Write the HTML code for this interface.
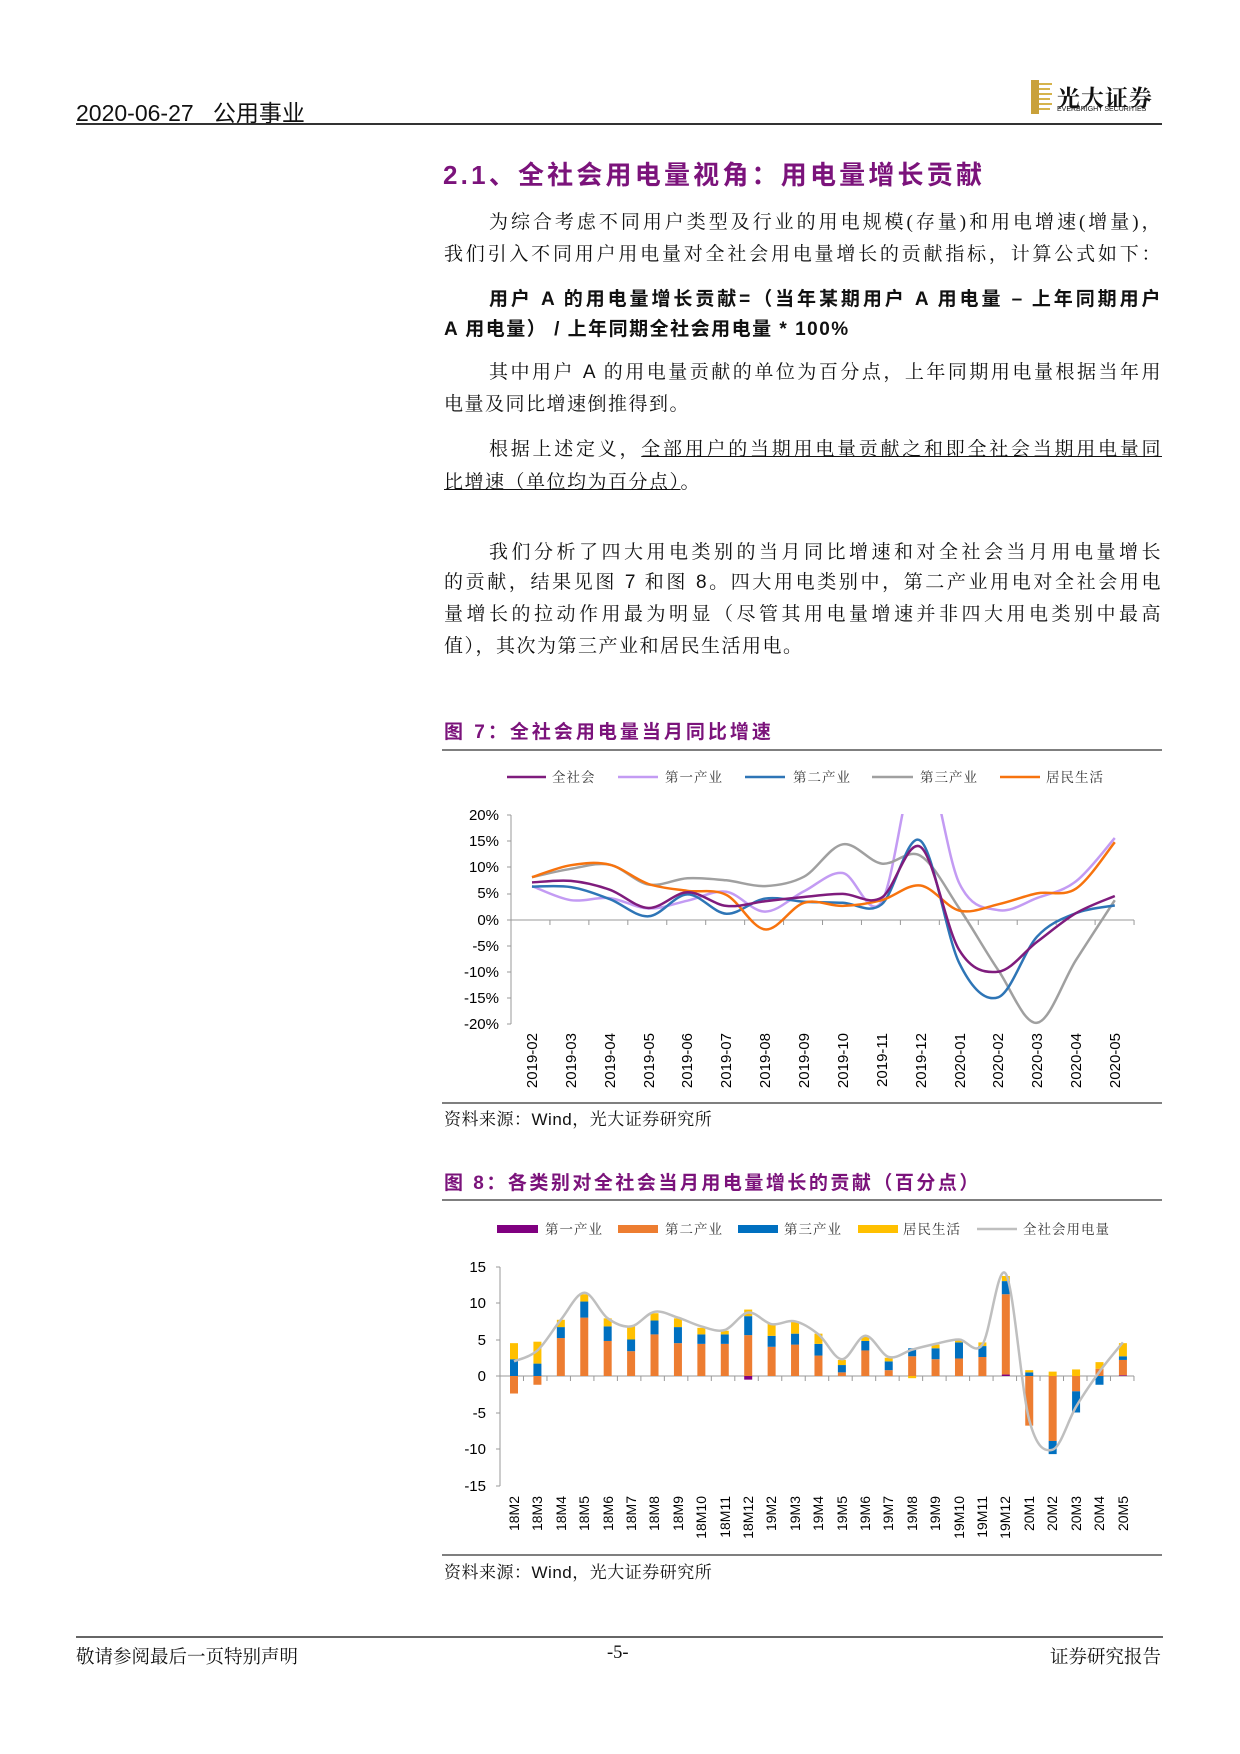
<!DOCTYPE html>
<html><head><meta charset="utf-8">
<style>
html,body{margin:0;padding:0;background:#fff;}
#pg{position:relative;width:1240px;height:1754px;overflow:hidden;background:#fff;
font-family:"Liberation Serif","Noto Serif CJK SC",serif;color:#111;}
.t{position:absolute;white-space:nowrap;}
.ln{position:absolute;left:444px;width:718px;font-size:19px;line-height:24px;white-space:nowrap;letter-spacing:1.5px;}
.j{text-align:justify;text-align-last:justify;}
.b{font-family:"Liberation Sans","Noto Sans CJK SC",sans-serif;font-weight:bold;}
.s{font-family:"Liberation Sans","Noto Serif CJK SC",serif;}
svg{position:absolute;left:0;top:0;}
</style></head><body><div id="pg">

<div class="t" style="left:76px;top:94px;font-size:23px;font-family:'Liberation Sans','Noto Sans CJK SC',sans-serif;">2020-06-27&nbsp;&nbsp;&nbsp;公用事业</div>
<div class="t" style="left:1057px;top:80px;font-size:23px;font-weight:bold;font-family:'Noto Serif CJK SC',serif;letter-spacing:1px;">光大证券</div>
<div class="t" style="left:1057px;top:106px;font-size:7px;font-family:'Liberation Sans',sans-serif;">EVERBRIGHT SECURITIES</div>

<div class="t" style="left:443px;top:155px;font-size:26px;font-weight:bold;color:#7B137B;font-family:'Liberation Sans','Noto Sans CJK SC',sans-serif;letter-spacing:3.2px;">2.1、全社会用电量视角：用电量增长贡献</div>

<div class="ln j" style="top:211px;padding-left:45px;width:673px;">为综合考虑不同用户类型及行业的用电规模(存量)和用电增速(增量)，</div>
<div class="ln j" style="top:243px;">我们引入不同用户用电量对全社会用电量增长的贡献指标，计算公式如下：</div>
<div class="ln j b" style="top:288px;padding-left:45px;width:673px;">用户 A 的用电量增长贡献=（当年某期用户 A 用电量 – 上年同期用户</div>
<div class="ln b" style="top:318px;">A 用电量） / 上年同期全社会用电量 * 100%</div>
<div class="ln j s" style="top:361px;padding-left:45px;width:673px;">其中用户 A 的用电量贡献的单位为百分点，上年同期用电量根据当年用</div>
<div class="ln" style="top:393px;">电量及同比增速倒推得到。</div>
<div class="ln j" style="top:438px;padding-left:45px;width:673px;">根据上述定义，<span style="text-decoration:underline;">全部用户的当期用电量贡献之和即全社会当期用电量同</span></div>
<div class="ln" style="top:471px;"><span style="text-decoration:underline;">比增速（单位均为百分点）</span>。</div>

<div class="ln j s" style="top:541px;padding-left:45px;width:673px;">我们分析了四大用电类别的当月同比增速和对全社会当月用电量增长</div>
<div class="ln j s" style="top:571px;">的贡献，结果见图 7 和图 8。四大用电类别中，第二产业用电对全社会用电</div>
<div class="ln j" style="top:603px;">量增长的拉动作用最为明显（尽管其用电量增速并非四大用电类别中最高</div>
<div class="ln" style="top:635px;">值），其次为第三产业和居民生活用电。</div>

<div class="t" style="left:444px;top:717px;font-size:19px;font-weight:bold;color:#7B137B;font-family:'Liberation Sans','Noto Sans CJK SC',sans-serif;letter-spacing:3px;">图 7：全社会用电量当月同比增速</div>
<div class="t" style="left:444px;top:1105px;font-size:17px;letter-spacing:0.5px;"><span>资料来源：</span><span style="font-family:'Liberation Sans',sans-serif">Wind</span>，光大证券研究所</div>
<div class="t" style="left:444px;top:1168px;font-size:19px;font-weight:bold;color:#7B137B;font-family:'Liberation Sans','Noto Sans CJK SC',sans-serif;letter-spacing:2.5px;">图 8：各类别对全社会当月用电量增长的贡献（百分点）</div>
<div class="t" style="left:444px;top:1558px;font-size:17px;letter-spacing:0.5px;"><span>资料来源：</span><span style="font-family:'Liberation Sans',sans-serif">Wind</span>，光大证券研究所</div>

<div class="t" style="left:76px;top:1643px;font-size:18.5px;">敬请参阅最后一页特别声明</div>
<div class="t" style="left:607px;top:1643px;font-size:18.5px;">-5-</div>
<div class="t" style="left:1050px;top:1643px;font-size:18.5px;">证券研究报告</div>

<svg width="1240" height="1754" viewBox="0 0 1240 1754" font-family="'Liberation Sans','Noto Serif CJK SC',sans-serif">
<defs><clipPath id="c1"><rect x="505" y="814" width="640" height="220"/></clipPath></defs>
<line x1="76" y1="124" x2="1162" y2="124" stroke="#333" stroke-width="2"/>
<rect x="1031" y="80" width="8" height="34" fill="#C9A13A"/>
<g stroke="#D6B44D" stroke-width="2"><line x1="1039" y1="84" x2="1052" y2="84"/><line x1="1039" y1="89" x2="1050" y2="89"/><line x1="1039" y1="94" x2="1052" y2="94"/><line x1="1039" y1="99" x2="1050" y2="99"/><line x1="1039" y1="104" x2="1052" y2="104"/><line x1="1039" y1="109" x2="1050" y2="109"/></g>
<line x1="442" y1="750" x2="1162" y2="750" stroke="#555" stroke-width="1.5"/>
<line x1="442" y1="1103" x2="1162" y2="1103" stroke="#555" stroke-width="1.5"/>
<line x1="442" y1="1200" x2="1162" y2="1200" stroke="#555" stroke-width="1.5"/>
<line x1="442" y1="1555" x2="1162" y2="1555" stroke="#555" stroke-width="1.5"/>
<line x1="76" y1="1637" x2="1163" y2="1637" stroke="#333" stroke-width="1.5"/>

<g font-size="13.5" font-family="'Noto Serif CJK SC',serif" fill="#333" letter-spacing="1">
<line x1="507" y1="777" x2="546" y2="777" stroke="#7F1C7D" stroke-width="2.5"/><text x="552" y="782">全社会</text>
<line x1="618" y1="777" x2="658" y2="777" stroke="#C39BF3" stroke-width="2.5"/><text x="665" y="782">第一产业</text>
<line x1="745" y1="777" x2="785" y2="777" stroke="#2E75B6" stroke-width="2.5"/><text x="793" y="782">第二产业</text>
<line x1="872" y1="777" x2="913" y2="777" stroke="#A0A0A0" stroke-width="2.5"/><text x="920" y="782">第三产业</text>
<line x1="1000" y1="777" x2="1040" y2="777" stroke="#F7730E" stroke-width="2.5"/><text x="1046" y="782">居民生活</text>
</g>
<g stroke="#999" stroke-width="1" fill="none">
<line x1="511" y1="815" x2="511" y2="1024"/>
<line x1="511" y1="920" x2="1134" y2="920"/>
<path id="t1" d=""/>
</g>
<g font-size="15" text-anchor="end" fill="#000">
<text x="499" y="820">20%</text><text x="499" y="846">15%</text><text x="499" y="872">10%</text><text x="499" y="898">5%</text><text x="499" y="925">0%</text><text x="499" y="951">-5%</text><text x="499" y="977">-10%</text><text x="499" y="1003">-15%</text><text x="499" y="1029">-20%</text>
</g>
<g font-size="15" text-anchor="end" fill="#000">
<text transform="translate(537,1033) rotate(-90)">2019-02</text>
<text transform="translate(576,1033) rotate(-90)">2019-03</text>
<text transform="translate(615,1033) rotate(-90)">2019-04</text>
<text transform="translate(654,1033) rotate(-90)">2019-05</text>
<text transform="translate(692,1033) rotate(-90)">2019-06</text>
<text transform="translate(731,1033) rotate(-90)">2019-07</text>
<text transform="translate(770,1033) rotate(-90)">2019-08</text>
<text transform="translate(809,1033) rotate(-90)">2019-09</text>
<text transform="translate(848,1033) rotate(-90)">2019-10</text>
<text transform="translate(887,1033) rotate(-90)">2019-11</text>
<text transform="translate(926,1033) rotate(-90)">2019-12</text>
<text transform="translate(965,1033) rotate(-90)">2020-01</text>
<text transform="translate(1003,1033) rotate(-90)">2020-02</text>
<text transform="translate(1042,1033) rotate(-90)">2020-03</text>
<text transform="translate(1081,1033) rotate(-90)">2020-04</text>
<text transform="translate(1120,1033) rotate(-90)">2020-05</text>
</g>
<g id="lines1" clip-path="url(#c1)" fill="none" stroke-width="2.5"></g>

<g font-size="13.5" font-family="'Noto Serif CJK SC',serif" fill="#333" letter-spacing="1">
<rect x="497" y="1225" width="41" height="8" fill="#800080"/><text x="545" y="1234">第一产业</text>
<rect x="618" y="1225" width="40" height="8" fill="#ED7D31"/><text x="665" y="1234">第二产业</text>
<rect x="738" y="1225" width="40" height="8" fill="#0070C0"/><text x="784" y="1234">第三产业</text>
<rect x="858" y="1225" width="40" height="8" fill="#FFC000"/><text x="903" y="1234">居民生活</text>
<line x1="977" y1="1229" x2="1017" y2="1229" stroke="#BFBFBF" stroke-width="2.5"/><text x="1023" y="1234">全社会用电量</text>
</g>
<g stroke="#999" stroke-width="1" fill="none">
<line x1="500" y1="1267" x2="500" y2="1486"/>
<line x1="500" y1="1376" x2="1134" y2="1376"/>
<path id="t2" d=""/>
</g>
<g font-size="15" text-anchor="end" fill="#000">
<text x="486" y="1272">15</text><text x="486" y="1308">10</text><text x="486" y="1345">5</text><text x="486" y="1381">0</text><text x="486" y="1418">-5</text><text x="486" y="1454">-10</text><text x="486" y="1491">-15</text>
</g>
<g id="bars2"></g>
<path id="line2" fill="none" stroke="#BFBFBF" stroke-width="2.5"/>
<g font-size="14" text-anchor="end" fill="#000">
<text transform="translate(519,1496) rotate(-90)">18M2</text>
<text transform="translate(542,1496) rotate(-90)">18M3</text>
<text transform="translate(566,1496) rotate(-90)">18M4</text>
<text transform="translate(589,1496) rotate(-90)">18M5</text>
<text transform="translate(613,1496) rotate(-90)">18M6</text>
<text transform="translate(636,1496) rotate(-90)">18M7</text>
<text transform="translate(659,1496) rotate(-90)">18M8</text>
<text transform="translate(683,1496) rotate(-90)">18M9</text>
<text transform="translate(706,1496) rotate(-90)">18M10</text>
<text transform="translate(730,1496) rotate(-90)">18M11</text>
<text transform="translate(753,1496) rotate(-90)">18M12</text>
<text transform="translate(776,1496) rotate(-90)">19M2</text>
<text transform="translate(800,1496) rotate(-90)">19M3</text>
<text transform="translate(823,1496) rotate(-90)">19M4</text>
<text transform="translate(847,1496) rotate(-90)">19M5</text>
<text transform="translate(870,1496) rotate(-90)">19M6</text>
<text transform="translate(893,1496) rotate(-90)">19M7</text>
<text transform="translate(917,1496) rotate(-90)">19M8</text>
<text transform="translate(940,1496) rotate(-90)">19M9</text>
<text transform="translate(964,1496) rotate(-90)">19M10</text>
<text transform="translate(987,1496) rotate(-90)">19M11</text>
<text transform="translate(1010,1496) rotate(-90)">19M12</text>
<text transform="translate(1034,1496) rotate(-90)">20M1</text>
<text transform="translate(1057,1496) rotate(-90)">20M2</text>
<text transform="translate(1081,1496) rotate(-90)">20M3</text>
<text transform="translate(1104,1496) rotate(-90)">20M4</text>
<text transform="translate(1128,1496) rotate(-90)">20M5</text>
</g>
</svg>
</div>
<script>
var NS="http://www.w3.org/2000/svg";
function smooth(pts){var d="M"+pts[0][0].toFixed(1)+","+pts[0][1].toFixed(1);
for(var i=0;i<pts.length-1;i++){var p0=pts[i-1]||pts[i],p1=pts[i],p2=pts[i+1],p3=pts[i+2]||p2;
var c1x=p1[0]+(p2[0]-p0[0])/6,c1y=p1[1]+(p2[1]-p0[1])/6,c2x=p2[0]-(p3[0]-p1[0])/6,c2y=p2[1]-(p3[1]-p1[1])/6;
d+=" C"+c1x.toFixed(1)+","+c1y.toFixed(1)+" "+c2x.toFixed(1)+","+c2y.toFixed(1)+" "+p2[0].toFixed(1)+","+p2[1].toFixed(1);}return d;}
var X1=function(i){return 532+i*38.85},Y1=function(v){return 920-v*5.22};
var s1=[["#C39BF3",[6.5,3.8,4.2,2.2,3.7,5.4,1.6,5.5,9.0,3.5,32,7,1.9,4.2,7.4,15.7]],
["#A0A0A0",[8.2,9.8,10.6,6.8,8.0,7.6,6.5,8.3,14.5,10.8,12.3,2.2,-9.6,-19.7,-7.7,3.8]],
["#2E75B6",[6.4,6.3,4.0,0.7,4.9,1.2,4.1,3.5,3.3,3.0,15.2,-8.3,-14.8,-3.2,1.3,2.8]],
["#F7730E",[8.2,10.5,10.6,6.9,5.6,4.8,-1.8,3.3,2.7,3.8,6.6,1.8,3.0,5.1,6.0,14.9]],
["#7F1C7D",[7.2,7.5,5.8,2.3,5.3,2.7,3.6,4.4,5.0,4.3,14.0,-5.8,-9.9,-4.2,1.3,4.6]]];
var g1=document.getElementById("lines1");
s1.forEach(function(s){var p=document.createElementNS(NS,"path");p.setAttribute("d",smooth(s[1].map(function(v,i){return[X1(i),Y1(v)]})));p.setAttribute("stroke",s[0]);g1.appendChild(p);});
var t="";for(var k=0;k<=16;k++){var x=511+k*38.94;t+="M"+x+",920 L"+x+",925 ";}
[815,841,867,894,920,946,972,998,1024].forEach(function(y){t+="M507,"+y+" L511,"+y+" ";});
document.getElementById("t1").setAttribute("d",t);
var X2=function(i){return 514+i*23.42},Y2=function(v){return 1376-v*7.3};
var B=[[0,-2.4,2.3,2.2],[0,-1.2,1.7,3.0],[0,5.2,1.5,1.0],[0,8.0,2.2,1.0],[0,4.8,2.0,1.1],[0,3.4,1.6,1.8],[0,5.7,1.9,1.0],[0,4.5,2.2,1.2],[0,4.4,1.3,0.9],[0,4.4,1.3,0.5],[-0.5,5.6,2.6,0.9],
[0,4.0,1.5,1.7],[0,4.3,1.5,1.7],[0,2.8,1.6,1.4],[0,0.5,1.0,0.7],[0,3.5,1.3,0.6],[0,0.8,1.2,0.5],[0,2.7,1.1,-0.3],[0,2.3,1.5,0.5],[0,2.4,2.2,0.4],[0,2.6,1.5,0.5],[0.2,11.0,1.8,0.7],
[0,-6.8,0.5,0.3],[0,-8.9,-1.8,0.6],[0,-2.1,-2.9,0.9],[0,1.0,-1.2,0.9],[0.1,2.1,0.5,1.8]];
var C=["#800080","#ED7D31","#0070C0","#FFC000"];var gb=document.getElementById("bars2");
B.forEach(function(b,i){var pos=0,neg=0;b.forEach(function(v,j){if(v==0)return;var y0,y1;
if(v>0){y0=pos;pos+=v;y1=pos;}else{y0=neg;neg+=v;y1=neg;}
var r=document.createElementNS(NS,"rect");r.setAttribute("x",X2(i)-4);r.setAttribute("width",8);
r.setAttribute("y",Math.min(Y2(y0),Y2(y1)));r.setAttribute("height",Math.abs(Y2(y0)-Y2(y1)));r.setAttribute("fill",C[j]);gb.appendChild(r);});});
var L=[2.0,3.5,7.7,11.4,7.9,6.8,8.8,8.0,6.8,6.3,8.7,7.1,7.5,5.7,2.3,5.5,2.6,3.6,4.4,5.0,4.3,14.0,-6.0,-10.1,-4.2,0.6,4.6];
document.getElementById("line2").setAttribute("d",smooth(L.map(function(v,i){return[X2(i),Y2(v)]})));
var t2="";for(var k=0;k<=27;k++){var x=500+k*23.48;t2+="M"+x+",1376 L"+x+",1381 ";}
[1267,1303,1340,1376,1413,1449,1486].forEach(function(y){t2+="M496,"+y+" L500,"+y+" ";});
document.getElementById("t2").setAttribute("d",t2);
</script>
</body></html>
